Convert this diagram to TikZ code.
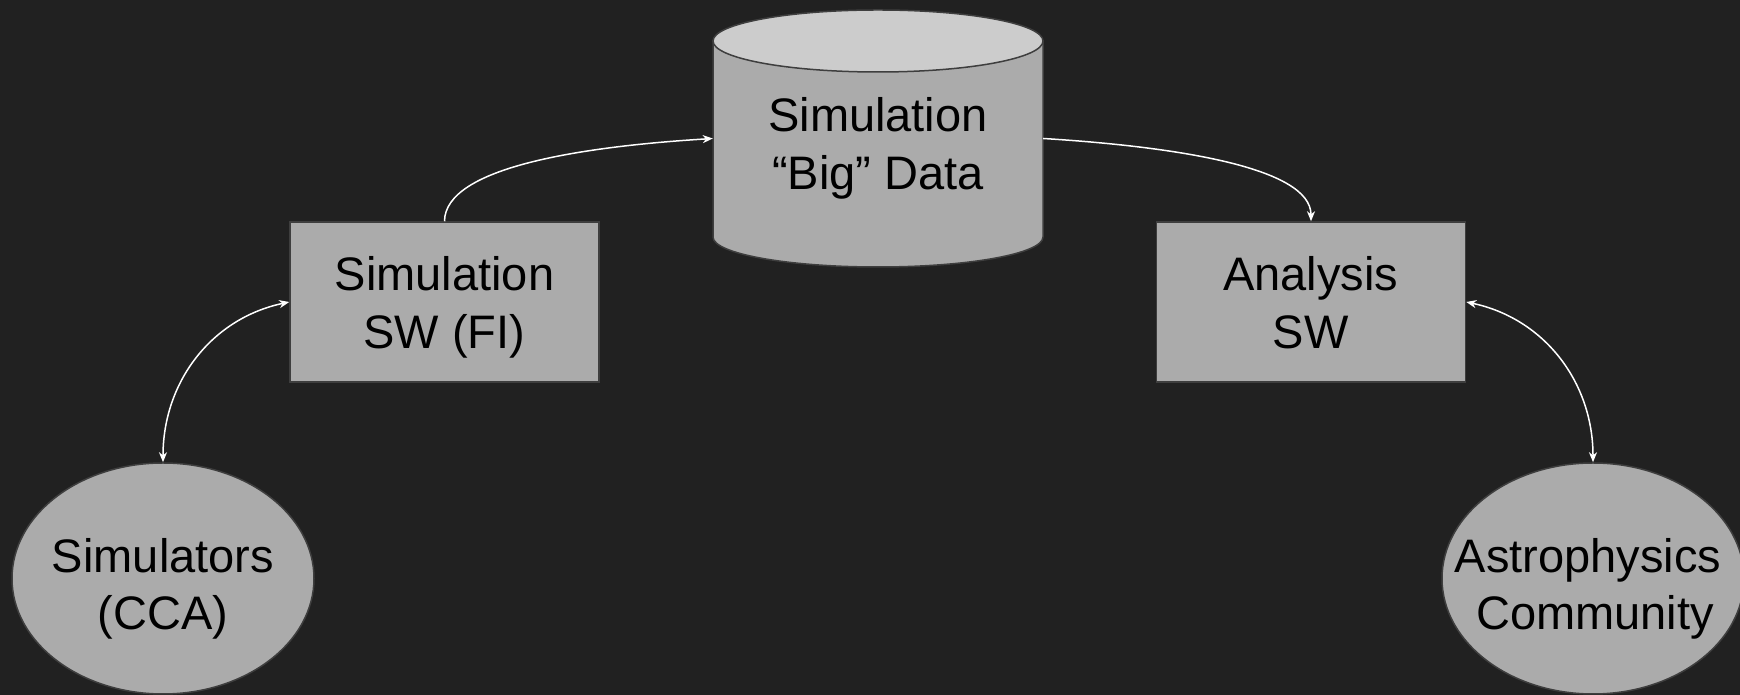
\documentclass[tikz,border=0pt]{standalone}
\usepackage{fontspec}
\setmainfont{Liberation Sans}
\usetikzlibrary{arrows.meta,shapes.geometric}
\definecolor{bg}{HTML}{212121}
\definecolor{boxfill}{HTML}{ABABAB}
\definecolor{capfill}{HTML}{CCCCCC}
\definecolor{edge}{HTML}{3E3E3E}
\tikzset{
  x=1pt, y=1pt,
  lbl/.style={font=\fontsize{47}{58}\selectfont, text=black, anchor=base, inner sep=0pt},
  swbox/.style={draw=edge, line width=1.5pt, fill=boxfill, minimum width=309pt, minimum height=160pt, inner sep=0pt},
  actor/.style={ellipse, draw=edge, line width=1.5pt, fill=boxfill, minimum width=302pt, minimum height=231pt, inner sep=0pt},
  conn/.style={draw=white, line width=1.5pt, -{Stealth[length=10pt,width=8pt,inset=3pt]}},
  biconn/.style={draw=white, line width=1.5pt, {Stealth[length=10pt,width=8pt,inset=3pt]}-{Stealth[length=10pt,width=8pt,inset=3pt]}}
}
\begin{document}
\begin{tikzpicture}
\fill[bg] (0,0) rectangle (1740,695);
\useasboundingbox (0,0) rectangle (1740,695);
% cylinder
\filldraw[fill=boxfill, draw=edge, line width=1.5pt] (713,654) -- (713,458) arc[start angle=180, end angle=360, x radius=165, y radius=30] -- (1043,654) -- cycle;
\filldraw[fill=capfill, draw=edge, line width=1.5pt] (878,654) ellipse[x radius=165, y radius=31];
\node[minimum width=330pt, minimum height=257pt, inner sep=0pt] (db) at (878,556.5) {};
\node[lbl] (dbA) at (878,563) {Simulation};
\node[lbl] (dbB) at (878,505) {“Big” Data};
% boxes
\node[swbox] (sim) at (444.5,393) {};
\node[lbl] (simA) at (444.5,404) {Simulation};
\node[lbl] (simB) at (444.5,346) {SW (FI)};
\node[swbox] (ana) at (1311,393) {};
\node[lbl] (anaA) at (1310.5,404) {Analysis};
\node[lbl] (anaB) at (1310.5,346) {SW};
% ellipses
\node[actor] (sims) at (163,116.5) {};
\node[lbl] (simsA) at (163,122) {Simulators};
\node[lbl] (simsB) at (163,65) {(CCA)};
\node[actor] (astro) at (1593,116.5) {};
\node[lbl] (astroA) at (1588,122) {Astrophysics};
\node[lbl] (astroB) at (1595,65) {Community};
% connectors
\draw[conn] (sim.north) .. controls (445,528) and (583,548.5) .. (db.west);
\draw[conn] (db.east) .. controls (1173,548.5) and (1311,528) .. (ana.north);
\draw[biconn] (sims.north) to[out=90, in=192] (sim.west);
\draw[biconn] (ana.east) to[out=-12, in=90] (astro.north);
\end{tikzpicture}
\end{document}
